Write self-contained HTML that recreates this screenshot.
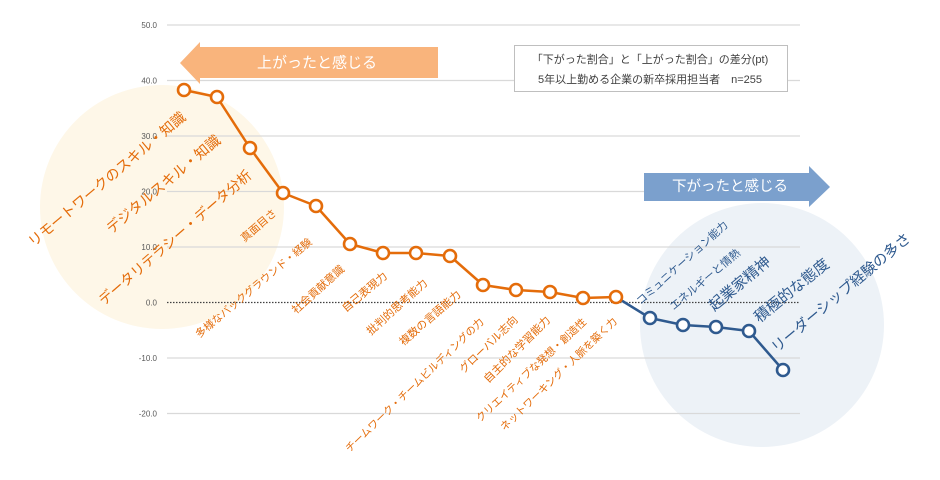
<!DOCTYPE html>
<html>
<head>
<meta charset="utf-8">
<style>
html,body{margin:0;padding:0;background:#fff;}
svg{display:block;}
text{font-family:"Liberation Sans","Noto Sans CJK JP",sans-serif;}
</style>
</head>
<body>
<svg width="940" height="480" viewBox="0 0 940 480" xmlns="http://www.w3.org/2000/svg">
<rect width="940" height="480" fill="#ffffff"/>
<!-- background circles -->
<circle cx="162" cy="207" r="122" fill="#FEF7E8"/>
<circle cx="762" cy="325" r="122" fill="#EDF2F7"/>

<!-- gridlines -->
<g stroke="#D9D9D9" stroke-width="1.3">
<line x1="167" y1="25" x2="800" y2="25"/>
<line x1="167" y1="80.5" x2="800" y2="80.5"/>
<line x1="167" y1="136" x2="800" y2="136"/>
<line x1="167" y1="191.5" x2="800" y2="191.5"/>
<line x1="167" y1="247" x2="800" y2="247"/>
<line x1="167" y1="358" x2="800" y2="358"/>
<line x1="167" y1="413.5" x2="800" y2="413.5"/>
</g>
<line x1="167" y1="302.5" x2="800" y2="302.5" stroke="#404040" stroke-width="1.3" stroke-dasharray="1.5,1.5"/>

<!-- y labels -->
<g font-size="8" fill="#595959" text-anchor="end">
<text x="157" y="28">50.0</text>
<text x="157" y="83.5">40.0</text>
<text x="157" y="139">30.0</text>
<text x="157" y="194.5">20.0</text>
<text x="157" y="250">10.0</text>
<text x="157" y="305.5">0.0</text>
<text x="157" y="361">-10.0</text>
<text x="157" y="416.5">-20.0</text>
</g>

<!-- arrows -->
<polygon points="180,63 200,42 200,47 438,47 438,78 200,78 200,84" fill="#F9B47C"/>
<text x="317" y="63" font-size="15" fill="#ffffff" text-anchor="middle" dominant-baseline="central">上がったと感じる</text>
<polygon points="644,173 809,173 809,166 830,187 809,207 809,201 644,201" fill="#7BA0CD"/>
<text x="730" y="187" font-size="14.5" fill="#ffffff" text-anchor="middle" dominant-baseline="central">下がったと感じる</text>

<!-- legend -->
<rect x="514.5" y="45.5" width="273" height="46" fill="#ffffff" stroke="#BFBFBF" stroke-width="1"/>
<text x="650" y="60" font-size="11" fill="#404040" text-anchor="middle" dominant-baseline="central">「下がった割合」と「上がった割合」の差分(pt)</text>
<text x="650" y="80" font-size="11" fill="#404040" text-anchor="middle" dominant-baseline="central">5年以上勤める企業の新卒採用担当者　n=255</text>

<!-- lines -->
<polyline fill="none" stroke="#E46C0A" stroke-width="2.5" stroke-linejoin="round"
 points="184,90 217,97 250,148 283,193 316,206 350,244 383,253 416,253 450,256 483,285 516,290 550,292 583,298 616,297"/>
<polyline fill="none" stroke="#2F5A8F" stroke-width="2.5" stroke-linejoin="round"
 points="616,297 650,318 683,325 716,327 749,331 783,370"/>

<!-- markers -->
<g fill="#ffffff" stroke="#E46C0A" stroke-width="2.6">
<circle cx="184" cy="90" r="6"/>
<circle cx="217" cy="97" r="6"/>
<circle cx="250" cy="148" r="6"/>
<circle cx="283" cy="193" r="6"/>
<circle cx="316" cy="206" r="6"/>
<circle cx="350" cy="244" r="6"/>
<circle cx="383" cy="253" r="6"/>
<circle cx="416" cy="253" r="6"/>
<circle cx="450" cy="256" r="6"/>
<circle cx="483" cy="285" r="6"/>
<circle cx="516" cy="290" r="6"/>
<circle cx="550" cy="292" r="6"/>
<circle cx="583" cy="298" r="6"/>
<circle cx="616" cy="297" r="6"/>
</g>
<g fill="#ffffff" stroke="#2F5A8F" stroke-width="2.6">
<circle cx="650" cy="318" r="6"/>
<circle cx="683" cy="325" r="6"/>
<circle cx="716" cy="327" r="6"/>
<circle cx="749" cy="331" r="6"/>
<circle cx="783" cy="370" r="6"/>
</g>

<!-- orange labels -->
<g fill="#E46C0A" text-anchor="middle" dominant-baseline="central">
<text transform="translate(107.5,180) rotate(-40)" font-size="14.3">リモートワークのスキル・知識</text>
<text transform="translate(164,185) rotate(-40)" font-size="14.4">デジタルスキル・知識</text>
<text transform="translate(175,237.5) rotate(-41)" font-size="14.1">データリテラシー・データ分析</text>
<text transform="translate(259,226) rotate(-41)" font-size="10.8">真面目さ</text>
<text transform="translate(254,288.5) rotate(-40)" font-size="10.6">多様なバックグラウンド・経験</text>
<text transform="translate(318.5,290) rotate(-42)" font-size="11">社会貢献意識</text>
<text transform="translate(365,292.5) rotate(-40)" font-size="11">自己表現力</text>
<text transform="translate(397.5,307.5) rotate(-42)" font-size="11">批判的思考能力</text>
<text transform="translate(430.5,318.5) rotate(-41)" font-size="11">複数の言語能力</text>
<text transform="translate(415,385.5) rotate(-44)" font-size="10.5">チームワーク・チームビルディングの力</text>
<text transform="translate(489,345) rotate(-44)" font-size="10.9">グローバル志向</text>
<text transform="translate(517.5,350) rotate(-45)" font-size="11.1">自主的な学習能力</text>
<text transform="translate(531.5,370.5) rotate(-43)" font-size="10.5">クリエイティブな発想・創造性</text>
<text transform="translate(559,374.5) rotate(-44)" font-size="10.5">ネットワーキング・人脈を築く力</text>
</g>

<!-- blue labels -->
<g fill="#2F5A8F" text-anchor="middle" dominant-baseline="central">
<text transform="translate(682.5,263.5) rotate(-42)" font-size="10.8">コミュニケーション能力</text>
<text transform="translate(705.5,280) rotate(-40)" font-size="11">エネルギーと情熱</text>
<text transform="translate(740,284) rotate(-40)" font-size="15">起業家精神</text>
<text transform="translate(792,291) rotate(-39)" font-size="15.2">積極的な態度</text>
<text transform="translate(841.5,293.5) rotate(-40)" font-size="14.7">リーダーシップ経験の多さ</text>
</g>
</svg>
</body>
</html>
